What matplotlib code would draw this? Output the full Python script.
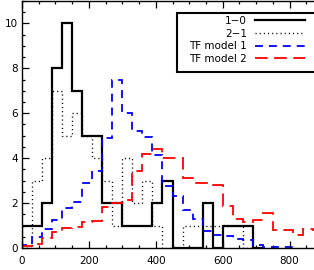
import matplotlib
matplotlib.use("Agg")
import matplotlib.pyplot as plt
import numpy as np
from matplotlib.ticker import MultipleLocator
from matplotlib.patches import Rectangle

# bin edges (km/s), width 30
edges_obs = np.arange(0, 720 + 1, 30)
co10 = [1, 1, 2, 8, 10, 7, 5, 5, 2, 2, 1, 1, 1, 2, 3, 0, 0, 0, 2, 0, 1, 1, 1, 0]
co21 = [0, 3, 4, 7, 5, 6, 5, 4, 3, 1, 4, 2, 3, 1, 0, 0, 1, 1, 1, 1, 1, 1, 0, 0]

edges_m1 = np.arange(0, 810 + 1, 30)
model1 = [0.15, 0.5, 0.85, 1.25, 1.78, 2.05, 2.9, 3.45, 4.9, 7.5, 6.0, 5.2, 4.95,
          4.15, 2.75, 2.3, 1.7, 1.3, 0.75, 0.6, 0.55, 0.4, 0.35, 0.12, 0.05, 0.05, 0.03]

edges_m2 = np.arange(0, 900 + 1, 30)
model2 = [0.1, 0.2, 0.43, 0.7, 0.87, 0.92, 1.17, 1.2, 1.84, 2.0, 2.15, 3.45, 4.2,
          4.4, 4.0, 4.0, 3.1, 2.9, 2.88, 2.8, 1.88, 1.28, 1.17, 1.25, 1.55, 0.82,
          0.82, 0.58, 0.85, 0.8]

labels = ["1\u22120", "2\u22121", "TF model 1", "TF model 2"]

W, H = 314, 270
fig = plt.figure(figsize=(W / 100, H / 100), dpi=100)
ax = fig.add_axes([22 / W, 22 / H, 301 / W, 247 / H])

lw = 1.3
ax.stairs(co10, edges_obs, color="black", lw=1.6, baseline=0, label=labels[0])
ax.stairs(co21, edges_obs, color="black", lw=1.0, linestyle=(0, (0.8, 2.2)),
          baseline=0, label=labels[1])
ax.stairs(model1, edges_m1, color="#0000ff", lw=lw, linestyle=(0, (4.4, 3.3)),
          baseline=0, label=labels[2])
ax.stairs(model2, edges_m2, color="#ff0000", lw=lw, linestyle=(0, (7, 3.6)),
          baseline=0, label=labels[3])

ax.set_xlim(0, 900)
ax.set_ylim(0, 11)
ax.xaxis.set_major_locator(MultipleLocator(200))
ax.xaxis.set_minor_locator(MultipleLocator(50))
ax.yaxis.set_major_locator(MultipleLocator(2))
ax.yaxis.set_minor_locator(MultipleLocator(0.5))
ax.tick_params(which="both", direction="in", top=True, right=True, width=0.9,
               labelsize=7.5)
ax.tick_params(which="major", length=5)
ax.tick_params(which="minor", length=2.5)
ax.tick_params(axis="x", pad=6)
ax.tick_params(axis="y", pad=3)
for s in ax.spines.values():
    s.set_linewidth(1.0)

# legend frame (extends beyond the right edge, as in the original)
frame = Rectangle((177 / W, 1 - 72 / H), 160 / W, 59 / H, transform=fig.transFigure,
                  facecolor="white", edgecolor="black", lw=1.5, zorder=4,
                  clip_on=False)
ax.add_artist(frame)

leg = ax.legend(loc="upper right", bbox_to_anchor=(305 / W, 1 - 16 / H),
                bbox_transform=fig.transFigure, markerfirst=False,
                frameon=False, fontsize=7.5,
                handlelength=4.8, handletextpad=0.77, labelspacing=0.25,
                borderpad=0, borderaxespad=0)
leg.set_zorder(5)

fig.savefig("out.png", dpi=100)
